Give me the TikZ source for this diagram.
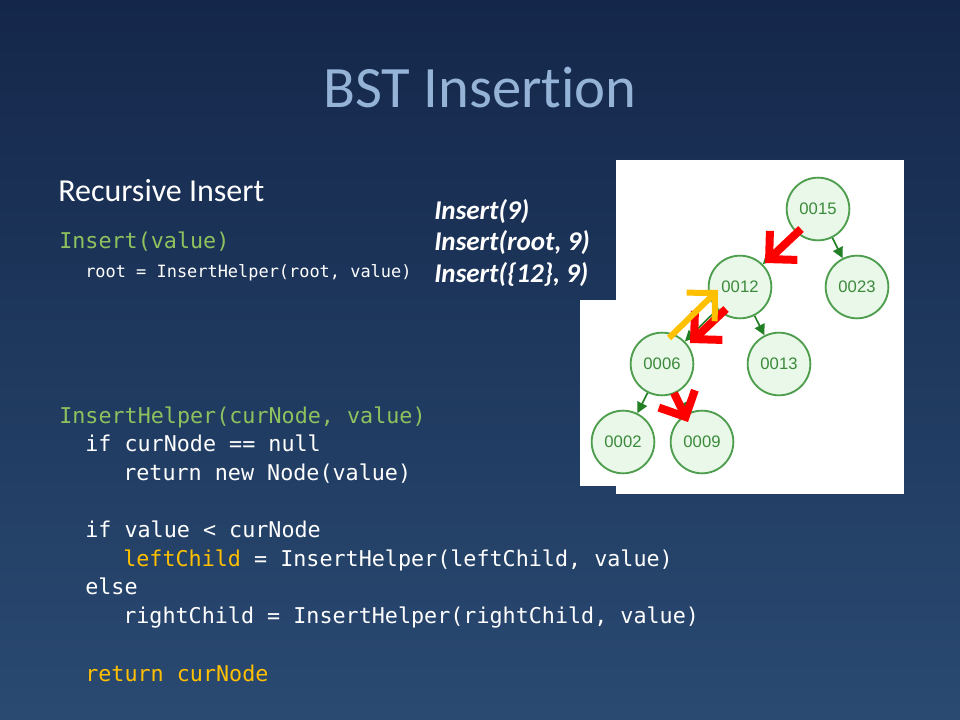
\documentclass[tikz,border=0pt]{standalone}
\usepackage{fontspec}
\setmainfont{Carlito}[Ligatures=NoCommon]
\newfontfamily\codefont{DejaVu Sans Mono}
\newfontfamily\treefont{Liberation Sans}
\usetikzlibrary{arrows.meta}
\definecolor{bgtop}{HTML}{14274A}
\definecolor{bgbottom}{HTML}{2A4A72}
\definecolor{titleblue}{HTML}{95B3D7}
\definecolor{codegreen}{HTML}{8EC25E}
\definecolor{codeyellow}{HTML}{FFC000}
\definecolor{treeline}{HTML}{4E9E4E}
\definecolor{treefill}{HTML}{EAF8EA}
\definecolor{treetext}{HTML}{3A8A3A}
\definecolor{treeedge}{HTML}{237F23}

\begin{document}
\begin{tikzpicture}[x=0.75pt,y=-0.75pt,
    code/.style={anchor=base west, inner sep=0pt, text=white, font=\codefont\fontsize{16.3}{20}\selectfont},
    call/.style={anchor=base west, inner sep=0pt, text=white, font=\bfseries\itshape\fontsize{20.3}{24}\selectfont},
    bst/.style={circle, draw=treeline, fill=treefill, line width=1.4pt, minimum size=47pt, inner sep=0pt,
        text=treetext, font=\treefont\fontsize{12.5}{14}\selectfont},
    edge/.style={draw=treeedge, line width=1.2pt, -{Triangle[length=8pt,width=8pt]}},
    trace/.style={line width=6pt, red, -{Straight Barb[length=15pt,width=30pt,sharp]}}]
    \useasboundingbox (0,0) rectangle (960,720);
    \shade[top color=bgtop, bottom color=bgbottom] (0,0) rectangle (960,720);
    % title and headings
    \node[anchor=base, inner sep=0pt, text=titleblue, font=\fontsize{44}{52}\selectfont] (title) at (480,108) {BST Insertion};
    \node[anchor=base west, inner sep=0pt, text=white, font=\fontsize{24}{28}\selectfont] (sub) at (58,202) {Recursive Insert};
    \node[code, text=codegreen] (ins) at (59,249) {Insert(value)};
    \node[code, font=\codefont\fontsize{12.7}{16}\selectfont] (root) at (85,278) {root = InsertHelper(root, value)};
    \node[call] (c1) at (434,220) {Insert(9)};
    \node[call] (c2) at (434,251) {Insert(root, 9)};
    \node[call] (c3) at (434,282) {Insert(\{12\}, 9)};
    % helper code
    \node[code, text=codegreen] (h1) at (59,423) {InsertHelper(curNode, value)};
    \node[code] (h2) at (85,451) {if curNode == null};
    \node[code] (h3) at (123,480) {return new Node(value)};
    \node[code] (h4) at (85,537) {if value < curNode};
    \node[code] (h5) at (123,566) {\textcolor{codeyellow}{leftChild} = InsertHelper(leftChild, value)};
    \node[code] (h6) at (85,594) {else};
    \node[code] (h7) at (123,623) {rightChild = InsertHelper(rightChild, value)};
    \node[code, text=codeyellow] (h8) at (85,681) {return curNode};
    % tree picture
    \fill[white] (580,300) rectangle (616,486);
    \fill[white] (616,160) rectangle (904,494);
    \node[bst] (n15) at (818,209) {0015};
    \node[bst] (n12) at (740,287) {0012};
    \node[bst] (n23) at (857,287) {0023};
    \node[bst] (n06) at (662,364) {0006};
    \node[bst] (n13) at (779,364) {0013};
    \node[bst] (n02) at (623,442) {0002};
    \node[bst] (n09) at (702,442) {0009};
    \draw[edge] (n15) -- (n12);
    \draw[edge] (n15) -- (n23);
    \draw[edge] (n12) -- (n06);
    \draw[edge] (n12) -- (n13);
    \draw[edge] (n06) -- (n02);
    \draw[edge] (n06) -- (n09);
    % path of the insert
    \coordinate (a1) at (801,229);
    \coordinate (b1) at (765,263);
    \coordinate (a2) at (726,309);
    \coordinate (b2) at (690,343);
    \coordinate (a3) at (674,393);
    \coordinate (b3) at (688,422);
    \coordinate (a4) at (669,338);
    \coordinate (b4) at (718,290);
    \draw[trace] (a1) -- (b1);
    \draw[trace] (a2) -- (b2);
    \draw[trace] (a3) -- (b3);
    \draw[trace, codeyellow, line width=4.5pt] (a4) -- (b4);
\end{tikzpicture}
\end{document}
